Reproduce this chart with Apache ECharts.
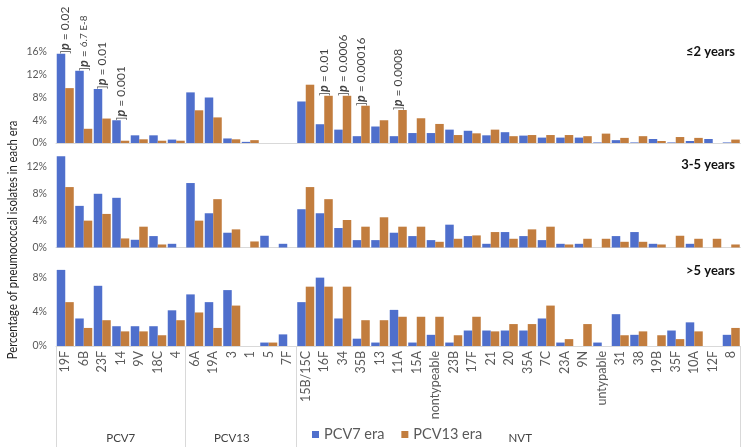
<!DOCTYPE html>
<html><head><meta charset="utf-8">
<script src="https://cdn.jsdelivr.net/npm/echarts@6/dist/echarts.min.js"></script>
<style>html,body{margin:0;padding:0;background:#fff}#c{width:744px;height:448px}</style>
</head><body><div id="c"></div>
<script>
const categories = ['19F','6B','23F','14','9V','18C','4','6A','19A','3','1','5','7F','15B/15C','16F','34','35B','13','11A','15A','nontypeable','23B','17F','21','20','35A','7C','23A','9N','untypable','31','38','19B','35F','10A','12F','8'];
const seriesNames = ['PCV7 era','PCV13 era'];
const panelTitles = ['≤2 years','3-5 years','>5 years'];
const yMax = [16, 14, 10];
const yTicks = [0, 4, 8, 12, 16];
// group labels: [label, category index under which it is centred]
const groupLabels = [['PCV7',3],['PCV13',9],['NVT',24]];
const groupBoundaries = [0, 7, 13];

// ≤2 years
const age1_pcv7  = [15.7,12.7,9.5,4.0,1.35,1.35,0.6,8.9,8.0,0.8,0.2,0,0,7.3,3.3,2.35,1.2,2.9,1.2,1.75,1.75,2.35,2.15,1.35,1.9,1.3,0.95,0.95,0.95,0.1,0.5,0.1,0.7,0.1,0.35,0.7,0.1];
const age1_pcv13 = [9.65,2.5,4.3,0.4,0.65,0.4,0.4,5.75,4.5,0.65,0.5,0,0,10.25,8.3,8.3,6.55,4.0,5.8,4.35,3.35,1.4,1.7,2.35,1.2,1.4,1.4,1.4,1.2,1.65,0.9,1.2,0.35,1.05,0.9,0,0.6];
// 3-5 years
const age2_pcv7  = [13.6,6.2,8.0,7.4,1.15,1.7,0.55,9.6,5.1,2.2,0,1.75,0.55,5.7,5.1,2.9,1.1,1.1,2.2,1.7,1.1,3.4,1.7,0.55,2.3,1.7,1.1,0.55,0.55,0,1.7,2.3,0.55,0,0.55,0,0];
const age2_pcv13 = [9.0,4.0,5.0,1.35,3.1,0.45,0,4.0,7.2,2.7,0.9,0,0,9.0,7.2,4.1,3.1,4.5,3.1,3.1,0.85,1.3,1.8,2.3,1.3,2.7,3.1,0.45,1.3,1.3,0.85,0.85,0.45,1.75,1.3,1.3,0.45];
// >5 years
const age3_pcv7  = [8.85,3.2,7.0,2.3,2.3,2.3,4.15,6.0,5.1,6.5,0,0.4,1.35,5.1,7.95,3.2,0.85,0.4,4.2,0.4,1.3,0.4,1.8,1.8,1.8,1.8,3.2,0.4,0,0.4,3.7,1.3,0,1.8,2.75,0,1.3];
const age3_pcv13 = [5.1,2.1,3.0,1.7,1.7,1.25,3.0,3.9,2.1,4.7,0,0.4,0,6.9,6.9,6.9,3.0,3.0,3.4,3.4,3.4,1.25,3.4,1.7,2.55,2.55,4.7,0.8,2.55,0,1.25,1.7,1.25,0.8,1.7,0,2.1];

// p-value annotations on the ≤2 years panel: [category, p text]
const pCategories = ['19F','6B','23F','14','16F','34','35B','11A'];
const pTexts = ['0.02','6.7 E-8','0.01','0.001','0.01','0.0006','0.00016','0.0008'];

const BLUE = '#4f6fcc', ORANGE = '#c27d3e';
const FONT = 'Lato, "Open Sans", sans-serif';
const panels = [[age1_pcv7, age1_pcv13],[age2_pcv7, age2_pcv13],[age3_pcv7, age3_pcv13]];
const grids = [
  {left: 56, right: 3.5, top: 52, height: 91},
  {left: 56, right: 3.5, top: 153.5, height: 94},
  {left: 56, right: 3.5, top: 260, height: 86}
];
const AXIS_GRAY = '#d9d9d9';

const xAxes = grids.map((g, i) => ({
  type: 'category', gridIndex: i, data: categories,
  axisLine: {show: true, lineStyle: {color: AXIS_GRAY, width: 1}},
  axisTick: i === 2 ? {show: true, length: 101, lineStyle: {color: AXIS_GRAY},
    interval: (idx) => groupBoundaries.indexOf(idx) >= 0} : {show: false},
  axisLabel: i === 2 ? {show: true, rotate: 90, interval: 0, fontSize: 12.5, color: '#595959', margin: 5, fontFamily: FONT} : {show: false}
}));
// group names under the serotype labels
xAxes.push({
  type: 'category', gridIndex: 2, data: categories, position: 'bottom',
  axisLine: {show: false}, axisTick: {show: false},
  axisLabel: {
    show: true, interval: (idx) => groupLabels.some(g => g[1] === idx), margin: 86,
    fontSize: 11.5, color: '#404040', fontFamily: FONT,
    formatter: (v, idx) => { const g = groupLabels.find(x => x[1] === idx); return g ? (g[0] === 'NVT' ? '{n|' + g[0] + '}' : g[0]) : ''; },
    rich: {n: {fontSize: 11.5, color: '#404040', fontFamily: FONT, padding: [0, 0, 0, 22]}}
  }
});
// outer frame ticks at both ends of the category band
xAxes.push({
  type: 'value', gridIndex: 2, min: 0, max: 1, interval: 1, position: 'bottom',
  splitLine: {show: false}, axisLine: {show: false}, axisLabel: {show: false},
  axisTick: {show: true, length: 101, lineStyle: {color: AXIS_GRAY}}
});

const yAxes = grids.map((g, i) => ({
  type: 'value', gridIndex: i, min: 0, max: yMax[i], interval: 4,
  splitLine: {show: false}, axisLine: {show: false}, axisTick: {show: false},
  axisLabel: {color: '#595959', fontSize: 10.5, margin: 9, fontFamily: FONT,
    formatter: (v) => yTicks.indexOf(v) >= 0 ? v + '%' : ''}
}));

const series = [];
panels.forEach((p, i) => {
  p.forEach((vals, k) => {
    series.push({
      name: seriesNames[k], type: 'bar', xAxisIndex: i, yAxisIndex: i, data: vals,
      barGap: '0%', barCategoryGap: '8%',
      itemStyle: {color: k === 0 ? BLUE : ORANGE},
      emphasis: {disabled: true}, animation: false
    });
  });
});

series.push({
  type: 'scatter', xAxisIndex: 0, yAxisIndex: 0, symbolSize: 0, silent: true, animation: false,
  data: pCategories.map((c, j) => {
    const idx = categories.indexOf(c);
    return {value: [c, Math.max(age1_pcv7[idx], age1_pcv13[idx])], ptext: pTexts[j]};
  }),
  label: {
    show: true, position: 'inside', rotate: 90, align: 'left', verticalAlign: 'middle',
    formatter: (prm) => '{b|]}{p|p}{t| = }' + (prm.data.ptext.indexOf('E') >= 0 ? '{s|' + prm.data.ptext + '}' : '{t|' + prm.data.ptext + '}'),
    rich: {
      b: {fontSize: 12, color: '#111', fontFamily: FONT},
      p: {fontSize: 12.5, color: '#111', fontWeight: 'bold', fontStyle: 'italic', fontFamily: FONT},
      t: {fontSize: 12, color: '#111', fontFamily: FONT},
      s: {fontSize: 10, color: '#111', fontFamily: FONT}
    }
  }
});

const chart = echarts.init(document.getElementById('c'), null, {renderer: 'canvas'});
chart.setOption({
  animation: false,
  backgroundColor: '#fff',
  textStyle: {fontFamily: FONT},
  grid: grids,
  xAxis: xAxes,
  yAxis: yAxes,
  series: series,
  legend: {
    data: seriesNames.map((n, k) => ({name: n, itemStyle: {color: k === 0 ? BLUE : ORANGE}})),
    left: 307, top: 422, icon: 'rect', itemWidth: 7, itemHeight: 7, itemGap: 17,
    textStyle: {fontSize: 14.5, color: '#595959', fontFamily: FONT}, selectedMode: false
  },
  title: panelTitles.map((t, i) => ({
    text: t, right: 4, top: [40, 153, 259][i],
    textStyle: {fontSize: 13, fontWeight: 'bold', color: '#111', fontFamily: FONT}
  })),
  graphic: [{
    type: 'text', x: 13, y: 240, rotation: Math.PI / 2, scaleX: 0.835,
    style: {text: 'Percentage of pneumococcal isolates in each era', fontSize: 13.5, fill: '#222', fontFamily: FONT, align: 'center', verticalAlign: 'middle'}
  }]
});
</script></body></html>
